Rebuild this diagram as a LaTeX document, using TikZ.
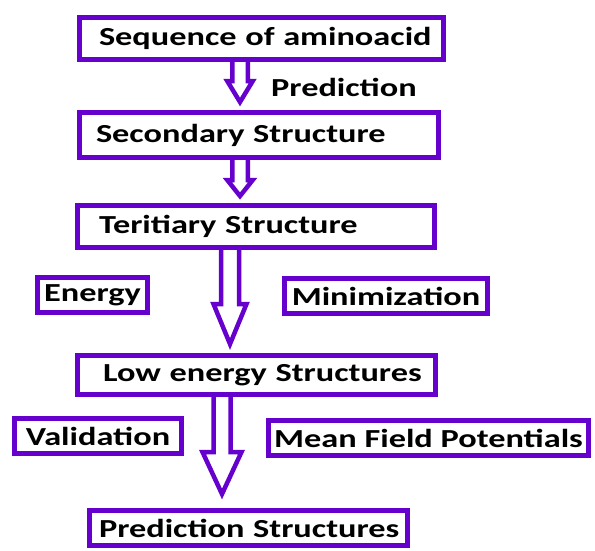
\documentclass[tikz,border=0pt]{standalone}
\usepackage{fontspec}
\setmainfont{Carlito}[FakeStretch=1.32]
\usepackage{tikz}
\usetikzlibrary{positioning,calc}
\definecolor{boxviolet}{RGB}{102,0,204}
\newcommand{\nohyph}{\hyphenpenalty=10000\relax}
\tikzset{
  purplebox/.style={draw=boxviolet,line width=5pt,fill=white,inner ysep=0pt,
    font=\bfseries\fontsize{26}{30}\selectfont\nohyph},
  stage/.style args={#1/#2/#3}{
  purplebox,
  text width=#1,
  inner xsep=#2,
  minimum height=#3,
  align=left
  },
  sidebox/.style={purplebox,minimum height=35pt,inner xsep=4pt,minimum width=#1},
  lbl/.style={font=\bfseries\fontsize{26}{30}\selectfont,inner sep=0pt},
  arrowline/.style={draw=boxviolet,line width=4.5pt},
  hollow/.style args={(#1) to (#2) by #3/#4/#5}{
    insert path={
      let
      \p1=(#1),
      \p2=(#2)
      in
      (\x1-#3,\y1) -- (\x1-#3,\y2+#5) -- (\x1-#4,\y2+#5) -- (\x1,\y2)
      -- (\x1+#4,\y2+#5) -- (\x1+#3,\y2+#5) -- (\x1+#3,\y1) -- cycle
    }
  }
}

\begin{document}
\begin{tikzpicture}
  \useasboundingbox (0,0) rectangle (595pt,-550pt);

  \node [stage=325pt/19.5pt/42pt,anchor=north west] (seq) at (77pt,-15pt) {Sequence~of~aminoacid};
  \node [stage=326pt/16.5pt/45pt,below=48pt of seq.south west,anchor=north west] (sec) {Secondary~Structure};
  \node [stage=314pt/21.5pt/42pt,below right=43pt and -2pt of sec.south west] (ter) {Teritiary~Structure};
  \node [stage=307pt/25.5pt/39pt,below=103pt of ter.south west,anchor=north west] (low) {Low~energy~Structures};
  \node [stage=299pt/9.5pt/35pt,below right=111pt and 12pt of low.south west] (pred) {Prediction~Structures};

  \node [sidebox=110pt,below right=25pt and -40pt of ter.south west] (energy) {Energy};
  \node [sidebox=203pt,below right=26pt and 207pt of ter.south west] (minim) {Minimization};
  \node [sidebox=167pt,below right=19pt and -63pt of low.south west] (valid) {Validation};
  \node [sidebox=320pt,below right=21pt and 191pt of low.south west] (mean) {Mean Field Potentials};

  \node [lbl,below right=25pt and 194pt of seq.south west,anchor=west] (predlbl) {Prediction};

  \draw [arrowline,hollow={([xshift=163pt,yshift=2.5pt]seq.south west) to ([yshift=8pt]sec.north) by 7.75pt/12.75pt/21pt}];
  \draw [arrowline,hollow={([xshift=163pt,yshift=2.5pt]sec.south west) to ([yshift=7pt]ter.north) by 7.75pt/12.75pt/16pt}];
  \draw [arrowline,hollow={([xshift=155pt,yshift=2.5pt]ter.south west) to ([yshift=9pt]low.north) by 9pt/16.5pt/40pt}];
  \draw [arrowline,hollow={([xshift=147pt,yshift=2.5pt]low.south west) to ([yshift=14pt]pred.north) by 8.5pt/19.5pt/42pt}];

\end{tikzpicture}
\end{document}
